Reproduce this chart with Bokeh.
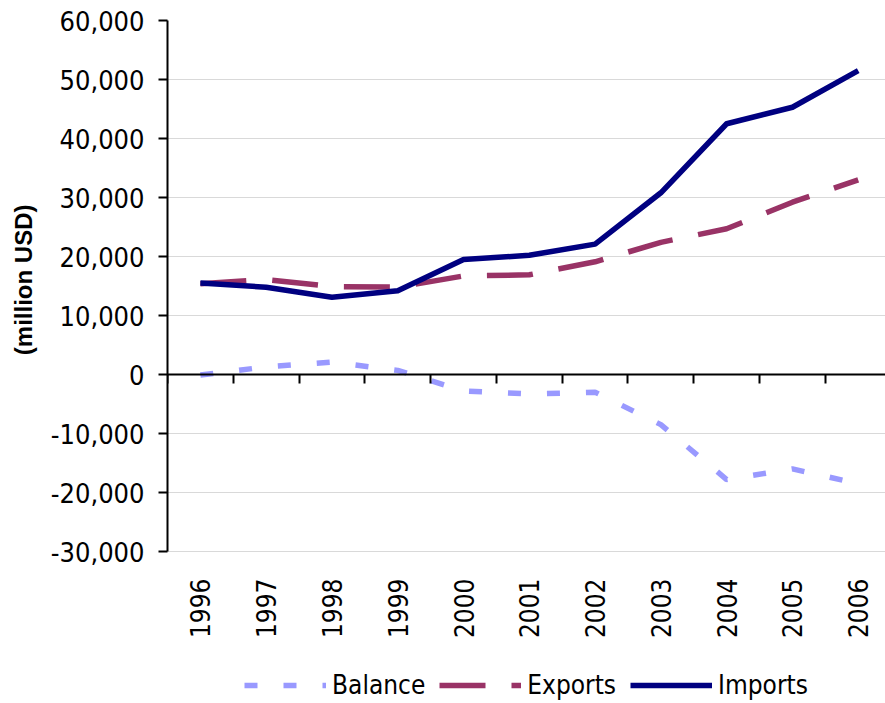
import math
from bokeh.plotting import figure
from bokeh.models import (FixedTicker, LinearAxis, NumeralTickFormatter, Legend,
                          LegendItem, Range1d, ColumnDataSource, Title)
from bokeh.embed import file_html
from bokeh.resources import INLINE

years = ["1996", "1997", "1998", "1999", "2000", "2001", "2002", "2003", "2004", "2005", "2006"]
balance = [-100, 1300, 2100, 700, -2800, -3300, -3000, -8500, -17800, -16000, -18500]
exports = [15400, 16100, 14900, 14800, 16700, 16900, 19100, 22400, 24700, 29200, 33000]
imports = [15500, 14800, 13100, 14200, 19500, 20200, 22100, 30800, 42500, 45300, 51500]
y_ticks = [-30000, -20000, -10000, 0, 10000, 20000, 30000, 40000, 50000, 60000]
y_min, y_max = -30000, 60000

xs = list(range(len(years)))
src = ColumnDataSource(dict(x=xs, balance=balance, exports=exports, imports=imports))

TICK_FONT = "DejaVu Sans Condensed"

# plotting area: 531 px for the value range, extra room below for labels + legend
AXIS_PX = 531
FRAME_PX = 680
y_start = y_max - (y_max - y_min) * FRAME_PX / AXIS_PX

p = figure(frame_width=719, frame_height=FRAME_PX, output_backend="svg", toolbar_location=None,
           x_range=Range1d(-0.5, 10.43), y_range=Range1d(y_start, y_max),
           x_axis_type=None,
           min_border_left=158, min_border_right=0, min_border_top=20,
           min_border_bottom=0)
p.outline_line_color = None
p.background_fill_color = "white"

# y axis
ya = p.yaxis[0]
ya.bounds = (y_min, y_max)
ya.ticker = FixedTicker(ticks=y_ticks)
ya.formatter = NumeralTickFormatter(format="0,0")
ya.axis_line_width = 2
ya.axis_line_color = "black"
ya.major_tick_line_width = 2
ya.major_tick_out = 9
ya.major_tick_in = 0
ya.minor_tick_line_color = None
ya.major_label_standoff = 14
ya.major_label_text_font = TICK_FONT
ya.major_label_text_font_size = "27px"
ya.major_label_text_color = "black"

# y axis title, centred on the value range (not on the whole frame)
ytitle = Title(text="(million USD)", align="right", offset=184, standoff=18,
               vertical_align="top",
               text_font="Liberation Sans", text_font_style="bold",
               text_font_size="24px", text_color="black")
p.add_layout(ytitle, "left")

p.ygrid.ticker = FixedTicker(ticks=y_ticks)
p.ygrid.grid_line_color = "#d9d9d9"
p.ygrid.grid_line_width = 1

# zero axis with category boundary ticks
bounds = [i - 0.5 for i in range(12)]
zero_axis = LinearAxis(fixed_location=0, ticker=FixedTicker(ticks=bounds),
                       major_label_overrides={b: "" for b in bounds},
                       axis_line_width=2, axis_line_color="black",
                       major_tick_line_width=2, major_tick_out=9, major_tick_in=0,
                       minor_tick_line_color=None,
                       major_label_text_font_size="1px")
p.add_layout(zero_axis, "below")

# category labels below the bottom of the value axis
lab_axis = LinearAxis(fixed_location=y_min, ticker=FixedTicker(ticks=xs),
                      major_label_overrides={i: y for i, y in enumerate(years)},
                      major_label_orientation=math.pi / 2,
                      axis_line_color=None, major_tick_line_color=None,
                      minor_tick_line_color=None, major_label_standoff=21,
                      major_label_text_font=TICK_FONT,
                      major_label_text_font_size="26px",
                      major_label_text_color="black")
p.add_layout(lab_axis, "below")

rb = p.line("x", "balance", source=src, line_color="#9999FF", line_width=5.5,
            line_dash="13 26")
re = p.line("x", "exports", source=src, line_color="#993366", line_width=5.5,
            line_dash="46 26")
ri = p.line("x", "imports", source=src, line_color="#000080", line_width=5.5,
            line_join="round")

legend = Legend(items=[LegendItem(label="Balance", renderers=[rb]),
                       LegendItem(label="Exports", renderers=[re]),
                       LegendItem(label="Imports", renderers=[ri])],
                orientation="horizontal", location=(77, 0),
                glyph_width=82, glyph_height=30, label_standoff=6, spacing=14,
                padding=0, margin=0, border_line_color=None,
                background_fill_alpha=0,
                label_text_font=TICK_FONT, label_text_font_size="26px",
                label_text_color="black")
p.add_layout(legend, "center")

open("out.html", "w").write(file_html(p, INLINE))
